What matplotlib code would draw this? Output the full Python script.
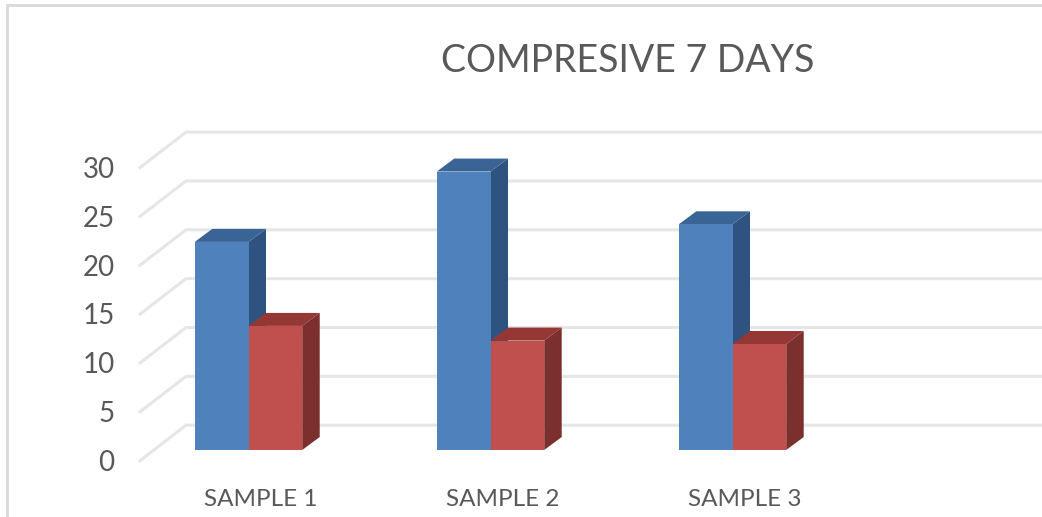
"""
3D style clustered columns, compressive strength at 7 days
"""
import numpy as np
import matplotlib
matplotlib.use('Agg')
import matplotlib.pyplot as plt

# Data
categories = ['SAMPLE 1', 'SAMPLE 2', 'SAMPLE 3']
series_a = [21.3, 28.5, 23.1]
series_b = [12.7, 11.2, 10.85]
y_ticks = [0, 5, 10, 15, 20, 25, 30]
title = 'COMPRESIVE 7 DAYS'

# Pixel scale of the plot, used only to set up the limits
W, H = 1042, 517
PX_X = 242.0   # pixels per category
PX_Y = 9.77    # pixels per value unit
X0_PX, Y0_PX = 248.5, 450.0

BAR_W = 0.222
DEPTH_X = 17.5 / PX_X
DEPTH_Y = 13.0 / PX_Y
WALL_X = 46.0 / PX_X
WALL_Y = 35.5 / PX_Y
# front edge of the floor sits this far in front of the bars
FRONT_X = -(X0_PX - 140.0) / PX_X
FRONT_Y = -10.7 / PX_Y

GRID = '#e6e6e6'
TEXT = '#595959'
BLUE = ('#4f81bd', '#3b6496', '#2f5380')
RED = ('#c0504d', '#953735', '#7b302e')

plt.rcParams['font.family'] = ['Lato', 'DejaVu Sans']


def draw_column(ax, x, value, colors):
    front, top, side = colors
    ax.fill([x, x + BAR_W, x + BAR_W + DEPTH_X, x + DEPTH_X],
            [value, value, value + DEPTH_Y, value + DEPTH_Y],
            color=top, lw=0, zorder=3)
    ax.fill([x + BAR_W, x + BAR_W + DEPTH_X, x + BAR_W + DEPTH_X, x + BAR_W],
            [0, DEPTH_Y, value + DEPTH_Y, value],
            color=side, lw=0, zorder=3)
    ax.fill([x, x + BAR_W, x + BAR_W, x], [0, 0, value, value],
            color=front, lw=0, zorder=3)


fig = plt.figure(figsize=(W / 100, H / 100), dpi=100)
ax = fig.add_axes([0, 0, 1, 1])
ax.set_xlim(-X0_PX / PX_X, (W - X0_PX) / PX_X)
ax.set_ylim(-(H - Y0_PX) / PX_Y, Y0_PX / PX_Y)
ax.axis('off')

# chart frame, top and left only since the crop cuts the rest
ax.plot([0.0065, 0.0065, 1], [0, 0.99, 0.99], transform=ax.transAxes,
        color='#d9d9d9', lw=2.0, solid_joinstyle='miter', zorder=1)

# gridlines: floor to back wall, then along the wall
x_left, x_right = ax.get_xlim()
for v in y_ticks:
    ax.plot([FRONT_X, FRONT_X + WALL_X, x_right],
            [v + FRONT_Y, v + FRONT_Y + WALL_Y, v + FRONT_Y + WALL_Y],
            color=GRID, lw=2.2, solid_joinstyle='miter', zorder=2)
    ax.text(FRONT_X - 25.5 / PX_X, v + FRONT_Y - 2.2 / PX_Y, str(v), ha='right',
            va='center', fontsize=20, color=TEXT)

for i, name in enumerate(categories):
    draw_column(ax, i - BAR_W, series_a[i], BLUE)
    draw_column(ax, i, series_b[i], RED)
    ax.text(i + 12 / PX_X, -49 / PX_Y, name, ha='center', va='center',
            fontsize=17.5, color=TEXT)

ax.text((628 - X0_PX) / PX_X, (Y0_PX - 60.5) / PX_Y, title, ha='center', va='center',
        fontsize=27, color=TEXT)

fig.savefig('out.png', dpi=100)
plt.close(fig)
